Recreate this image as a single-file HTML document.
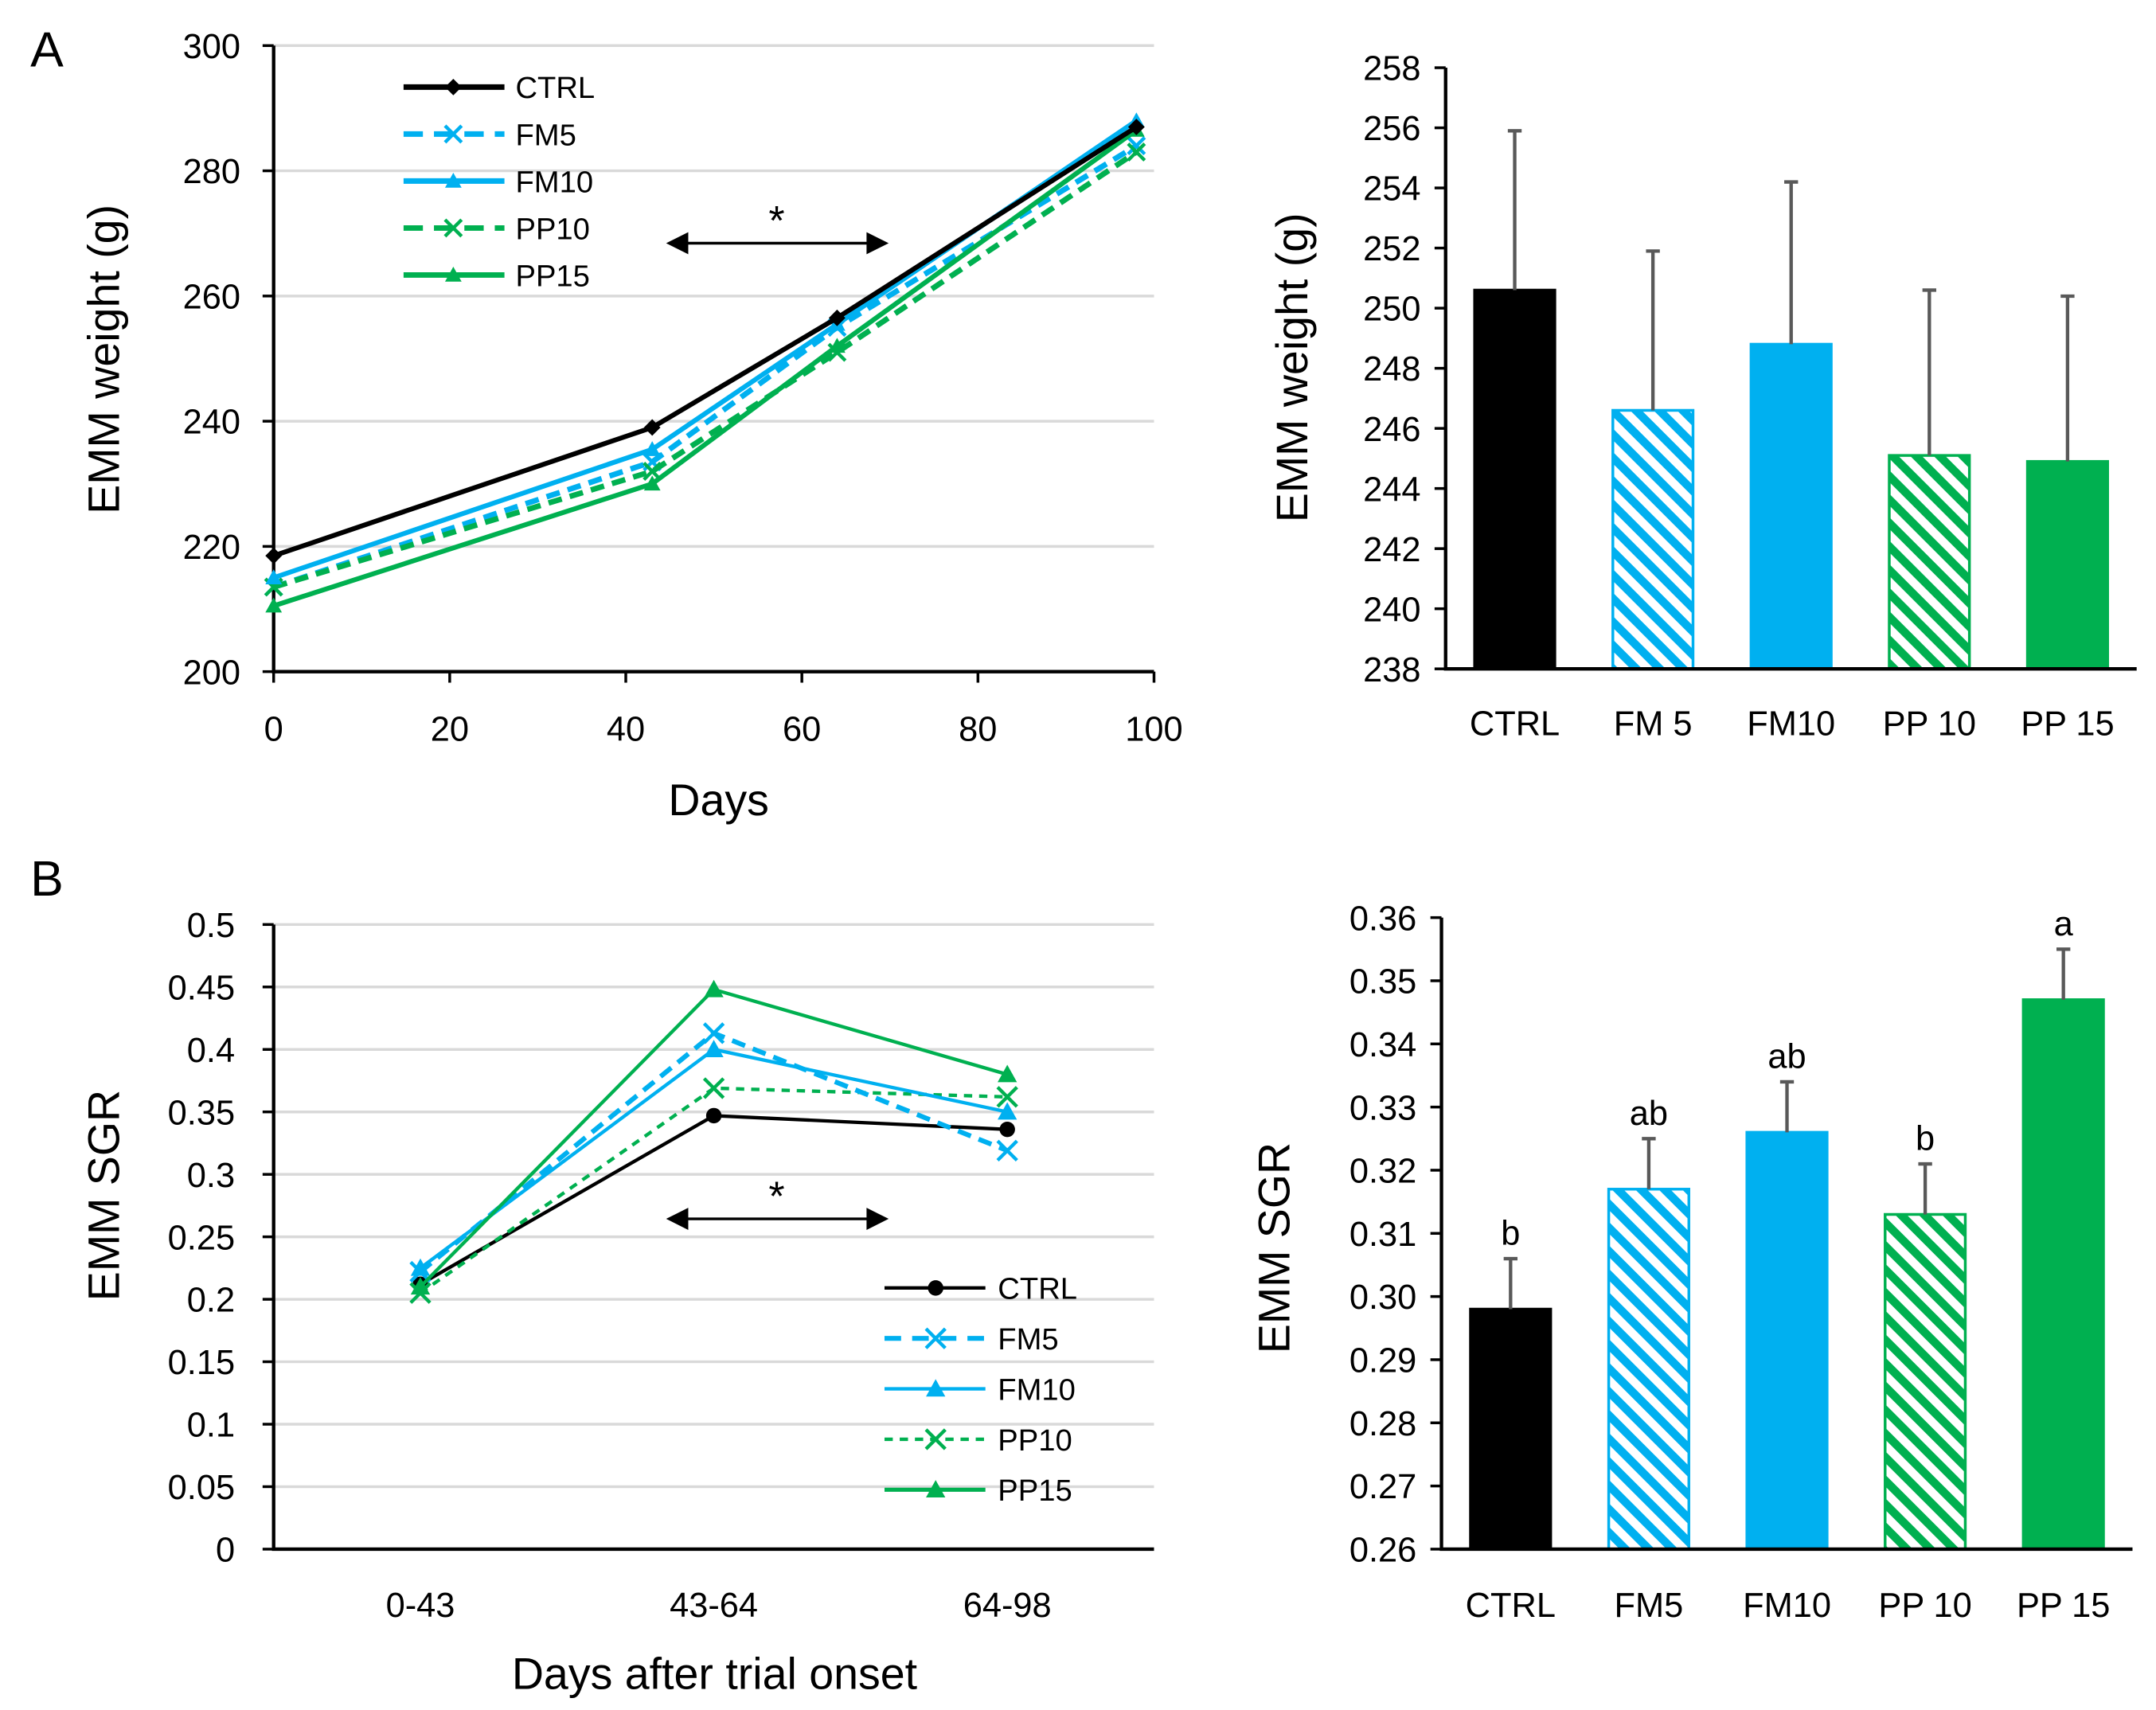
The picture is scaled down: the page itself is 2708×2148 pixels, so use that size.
<!DOCTYPE html>
<html><head><meta charset="utf-8">
<style>
html,body{margin:0;padding:0;background:#fff;}
svg{display:block;font-family:"Liberation Sans",sans-serif;}
</style></head>
<body>
<svg id="fig" width="2708" height="2148" viewBox="0 0 1560 1237.4" preserveAspectRatio="none" xmlns="http://www.w3.org/2000/svg">
<defs>
<pattern id="hatchBlue" patternUnits="userSpaceOnUse" width="12" height="12" patternTransform="rotate(-45)">
<rect width="12" height="12" fill="#fff"/><rect width="6" height="12" fill="#00B0F0"/>
</pattern>
<pattern id="hatchGreen" patternUnits="userSpaceOnUse" width="12" height="12" patternTransform="rotate(-45)">
<rect width="12" height="12" fill="#fff"/><rect width="6" height="12" fill="#00B050"/>
</pattern>
</defs>
<g id="root"></g>
</svg>
<script>
// ---- Panel A line chart data ----
const daysA = [0, 43, 64, 98];
const ctrlA = [218.5, 239, 256.5, 287];
const fm5A = [213.5, 233.5, 255, 284];
const fm10A = [215, 235.5, 255.5, 288];
const pp10A = [213.5, 232, 251, 283];
const pp15A = [210.5, 230, 252, 286.5];
const ticksAx = [0, 20, 40, 60, 80, 100];
const ticksAy = [200, 220, 240, 260, 280, 300];
// ---- Panel A bar chart data ----
const barCats = ["CTRL", "FM 5", "FM10", "PP 10", "PP 15"];
const barWeight = [250.6, 246.6, 248.8, 245.1, 244.9];
const barWeightErr = [5.3, 5.3, 5.4, 5.5, 5.5];
const ticksBarA = [238, 240, 242, 244, 246, 248, 250, 252, 254, 256, 258];
// ---- Panel B line chart data ----
const periodsB = ["0-43", "43-64", "64-98"];
const ctrlB = [0.212, 0.347, 0.336];
const fm5B = [0.222, 0.413, 0.319];
const fm10B = [0.225, 0.400, 0.350];
const pp10B = [0.205, 0.369, 0.362];
const pp15B = [0.210, 0.448, 0.380];
const ticksBy = ["0", "0.05", "0.1", "0.15", "0.2", "0.25", "0.3", "0.35", "0.4", "0.45", "0.5"];
// ---- Panel B bar chart data ----
const barCatsB = ["CTRL", "FM5", "FM10", "PP 10", "PP 15"];
const barSGR = [0.298, 0.317, 0.326, 0.313, 0.347];
const barSGRErr = [0.008, 0.008, 0.008, 0.008, 0.008];
const barLetters = ["b", "ab", "ab", "b", "a"];
const ticksBarB = ["0.26", "0.27", "0.28", "0.29", "0.30", "0.31", "0.32", "0.33", "0.34", "0.35", "0.36"];

const NS = "http://www.w3.org/2000/svg";
const root = document.getElementById("root");
function mk(tag, attrs, parent) {
  const e = document.createElementNS(NS, tag);
  for (const k in attrs) e.setAttribute(k, attrs[k]);
  (parent || root).appendChild(e);
  return e;
}
function txt(s, attrs, name) {
  const e = mk("text", attrs);
  e.textContent = s;
  
  
  return e;
}
const BLUE = "#00B0F0", GREEN = "#00B050";
const TF = 25, TT = 32;

function marker(g, type, x, y, color, s) {
  let e;
  if (type === "diamond") e = mk("polygon", {points: `${x},${y-s} ${x+s},${y} ${x},${y+s} ${x-s},${y}`, fill: color}, g);
  else if (type === "circle") e = mk("circle", {cx: x, cy: y, r: s*0.8, fill: color}, g);
  else if (type === "tri") e = mk("polygon", {points: `${x},${y-s} ${x+s},${y+s*0.8} ${x-s},${y+s*0.8}`, fill: color}, g);
  else e = mk("path", {d: `M${x-s},${y-s}L${x+s},${y+s}M${x-s},${y+s}L${x+s},${y-s}`, stroke: color, "stroke-width": 2.5, fill: "none"}, g);
  
  
}

function arrow(x1, x2, y, name) {
  const g = mk("g", {});
  
  
  mk("line", {x1: x1+12, x2: x2-12, y1: y, y2: y, stroke: "#000", "stroke-width": 2}, g);
  mk("polygon", {points: `${x1},${y} ${x1+16},${y-8} ${x1+16},${y+8}`, fill: "#000"}, g);
  mk("polygon", {points: `${x2},${y} ${x2-16},${y-8} ${x2-16},${y+8}`, fill: "#000"}, g);
}

// =============== Panel A line chart ===============
(function(){
  const L = 198, R = 835, T = 33, B = 486;
  const xs = d => L + (d - 0) / 100 * (R - L);
  const ys = v => B - (v - 200) / 100 * (B - T);
  txt("A", {x: 22, y: 48, "font-size": 36}, "panel-label-a");
  ticksAy.forEach(v => {
    if (v > 200) { const gl = mk("line", {x1: L, x2: R, y1: ys(v), y2: ys(v), stroke: "#d9d9d9", "stroke-width": 2});
        }
    const tk = mk("line", {x1: L-8, x2: L, y1: ys(v), y2: ys(v), stroke: "#000", "stroke-width": 2});
     
    txt(String(v), {x: L-24, y: ys(v)+9, "font-size": TF, "text-anchor": "end"}, "y-tick-label");
  });
  ticksAx.forEach(v => {
    const tk = mk("line", {x1: xs(v), x2: xs(v), y1: B, y2: B+8, stroke: "#000", "stroke-width": 2});
     
    txt(String(v), {x: xs(v), y: B+50, "font-size": TF, "text-anchor": "middle"}, "x-tick-label");
  });
  const ax = mk("path", {d: `M${L},${T}L${L},${B}L${R},${B}`, stroke: "#000", "stroke-width": 2.5, fill: "none"});
   
  txt("Days", {x: 520, y: 590, "font-size": TT, "text-anchor": "middle"}, "x-axis-title");
  txt("EMM weight (g)", {x: 0, y: 0, "font-size": TT, "text-anchor": "middle", transform: "translate(86,260) rotate(-90)"}, "y-axis-title");
  const series = [
    [fm5A, BLUE, "10 6", "x", 4, "fm5"], [pp10A, GREEN, "10 6", "x", 4, "pp10"],
    [pp15A, GREEN, null, "tri", 3.5, "pp15"], [fm10A, BLUE, null, "tri", 3.5, "fm10"],
    [ctrlA, "#000", null, "diamond", 3.5, "ctrl"]];
  series.forEach(([vals, c, dash, m, w, nm]) => {
    const g = mk("g", {});
    
    
    const pts = vals.map((v, i) => `${xs(daysA[i])},${ys(v)}`).join(" ");
    const attrs = {points: pts, stroke: c, "stroke-width": w, fill: "none", "stroke-linejoin": "round"};
    if (dash) attrs["stroke-dasharray"] = dash;
    mk("polyline", attrs, g);
    vals.forEach((v, i) => marker(g, m, xs(daysA[i]), ys(v), c, 6));
  });
  const leg = [["CTRL", "#000", null, "diamond"], ["FM5", BLUE, "14 8", "x"], ["FM10", BLUE, null, "tri"], ["PP10", GREEN, "14 8", "x"], ["PP15", GREEN, null, "tri"]];
  leg.forEach(([n, c, dash, m], i) => {
    const y = 63 + i * 34;
    const g = mk("g", {});
    
    
    const a = {x1: 292, x2: 365, y1: y, y2: y, stroke: c, "stroke-width": 4};
    if (dash) a["stroke-dasharray"] = dash;
    mk("line", a, g);
    marker(g, m, 328, y, c, 6);
    const t = mk("text", {x: 373, y: y+8, "font-size": 22}, g);
    t.textContent = n;
  });
  arrow(482, 643, 176, "significance-arrow-a");
  txt("*", {x: 562, y: 170, "font-size": 30, "text-anchor": "middle"}, "significance-star-a");
})();

// =============== Bar chart helper ===============
function barChart(cfg) {
  const {L, R, T, B, min, max, ticks, cats, vals, errs, letters, prefix, titleX, titleY, title, labelY} = cfg;
  const ys = v => B - (v - min) / (max - min) * (B - T);
  const bw = (R - L) / cats.length;
  ticks.forEach(s => {
    const v = parseFloat(s);
    const tk = mk("line", {x1: L-8, x2: L, y1: ys(v), y2: ys(v), stroke: "#000", "stroke-width": 2});
     
    txt(s, {x: L-18, y: ys(v)+9, "font-size": TF, "text-anchor": "end"}, prefix + "-y-tick-label");
  });
  const fills = ["#000", "url(#hatchBlue)", BLUE, "url(#hatchGreen)", GREEN];
  const strokes = ["#000", BLUE, BLUE, GREEN, GREEN];
  cats.forEach((c, i) => {
    const cx = L + bw * (i + 0.5);
    const top = ys(vals[i]);
    const r = mk("rect", {x: cx - 29, y: top, width: 58, height: B - top, fill: fills[i], stroke: strokes[i], "stroke-width": 2});
    
    
    const et = ys(vals[i] + errs[i]);
    const eb = mk("path", {d: `M${cx},${top}L${cx},${et}M${cx-5},${et}L${cx+5},${et}`, stroke: "#595959", "stroke-width": 2.5, fill: "none"});
    
    
    txt(c, {x: cx, y: labelY, "font-size": TF, "text-anchor": "middle"}, prefix + "-x-tick-label");
    if (letters) txt(letters[i], {x: cx, y: et - 10, "font-size": TF, "text-anchor": "middle"}, prefix + "-significance-letter");
  });
  const ax = mk("path", {d: `M${L},${T}L${L},${B}L${R},${B}`, stroke: "#000", "stroke-width": 2.5, fill: "none"});
   
  txt(title, {x: 0, y: 0, "font-size": TT, "text-anchor": "middle", transform: `translate(${titleX},${titleY}) rotate(-90)`}, prefix + "-y-axis-title");
}

barChart({L: 1046, R: 1546, T: 49, B: 484, min: 238, max: 258, ticks: ticksBarA.map(String),
  cats: barCats, vals: barWeight, errs: barWeightErr, letters: null, prefix: "weight",
  titleX: 946, titleY: 266, title: "EMM weight (g)", labelY: 532});

barChart({L: 1043, R: 1543, T: 664, B: 1121, min: 0.26, max: 0.36, ticks: ticksBarB,
  cats: barCatsB, vals: barSGR, errs: barSGRErr, letters: barLetters, prefix: "sgr",
  titleX: 933, titleY: 903, title: "EMM SGR", labelY: 1170});

// =============== Panel B line chart ===============
(function(){
  const L = 198, R = 835, T = 669, B = 1121;
  const bw = (R - L) / periodsB.length;
  const xs = i => L + bw * (i + 0.5);
  const ys = v => B - v / 0.5 * (B - T);
  txt("B", {x: 22, y: 648, "font-size": 36}, "panel-label-b");
  ticksBy.forEach(s => {
    const v = parseFloat(s);
    if (v > 0) { const gl = mk("line", {x1: L, x2: R, y1: ys(v), y2: ys(v), stroke: "#d9d9d9", "stroke-width": 2});
        }
    const tk = mk("line", {x1: L-8, x2: L, y1: ys(v), y2: ys(v), stroke: "#000", "stroke-width": 2});
     
    txt(s, {x: L-28, y: ys(v)+9, "font-size": TF, "text-anchor": "end"}, "y-tick-label");
  });
  periodsB.forEach((p, i) => txt(p, {x: xs(i), y: 1170, "font-size": TF, "text-anchor": "middle"}, "x-tick-label"));
  const ax = mk("path", {d: `M${L},${T}L${L},${B}L${R},${B}`, stroke: "#000", "stroke-width": 2.5, fill: "none"});
   
  txt("Days after trial onset", {x: 517, y: 1222, "font-size": TT, "text-anchor": "middle"}, "x-axis-title");
  txt("EMM SGR", {x: 0, y: 0, "font-size": TT, "text-anchor": "middle", transform: "translate(86,865) rotate(-90)"}, "y-axis-title");
  const series = [
    [ctrlB, "#000", null, "circle", 2.5, "ctrl"], [pp10B, GREEN, "6 5", "x", 2.5, "pp10"],
    [fm10B, BLUE, null, "tri", 2.5, "fm10"], [fm5B, BLUE, "10 6", "x", 3.5, "fm5"],
    [pp15B, GREEN, null, "tri", 2.5, "pp15"]];
  series.forEach(([vals, c, dash, m, w, nm]) => {
    const g = mk("g", {});
    
    
    const pts = vals.map((v, i) => `${xs(i)},${ys(v)}`).join(" ");
    const a = {points: pts, stroke: c, "stroke-width": w, fill: "none"};
    if (dash) a["stroke-dasharray"] = dash;
    mk("polyline", a, g);
    vals.forEach((v, i) => marker(g, m, xs(i), ys(v), c, 7));
  });
  const leg = [["CTRL", "#000", null, "circle", 2.5], ["FM5", BLUE, "12 8", "x", 3.5], ["FM10", BLUE, null, "tri", 2.5], ["PP10", GREEN, "6 5", "x", 2.5], ["PP15", GREEN, null, "tri", 3]];
  leg.forEach(([n, c, dash, m, w], i) => {
    const y = 932 + i * 36.5;
    const g = mk("g", {});
    
    
    const a = {x1: 640, x2: 713, y1: y, y2: y, stroke: c, "stroke-width": w};
    if (dash) a["stroke-dasharray"] = dash;
    mk("line", a, g);
    marker(g, m, 677, y, c, 7);
    const t = mk("text", {x: 722, y: y+8, "font-size": 22}, g);
    t.textContent = n;
  });
  arrow(482, 643, 882, "significance-arrow-b");
  txt("*", {x: 562, y: 876, "font-size": 30, "text-anchor": "middle"}, "significance-star-b");
})();
</script>
</body></html>
